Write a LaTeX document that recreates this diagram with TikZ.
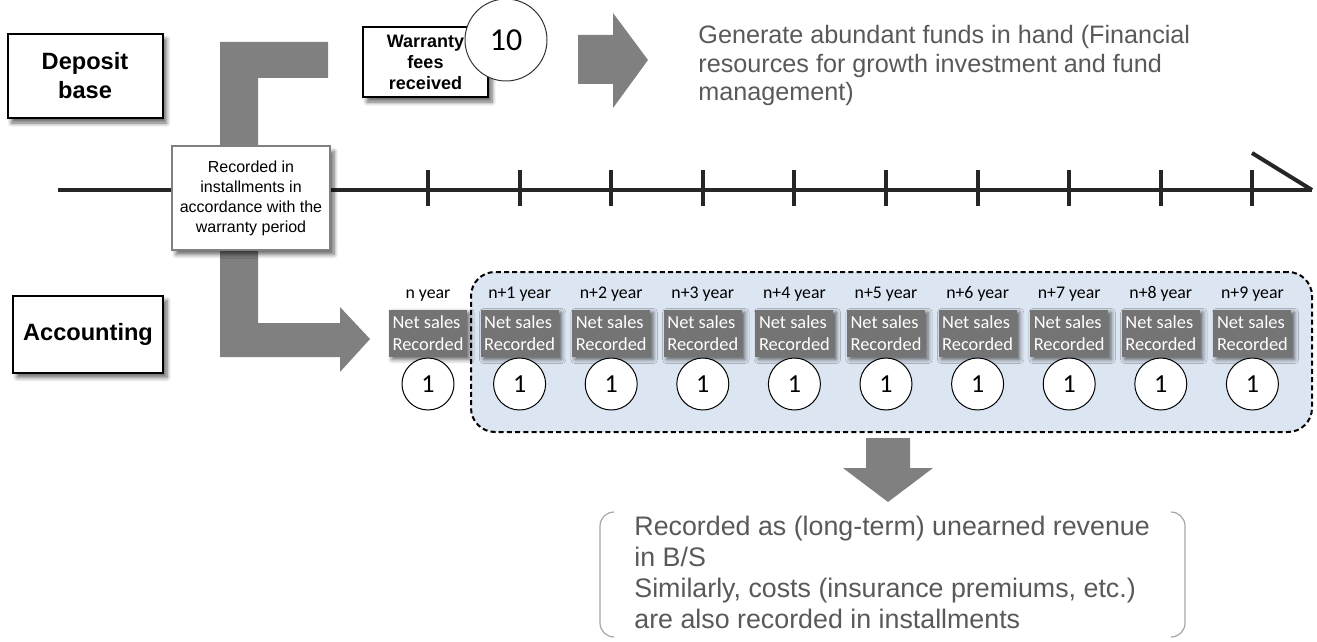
\documentclass[tikz,border=0pt]{standalone}
\usepackage{fontspec}
\setmainfont{Liberation Sans}
\newfontfamily\calfont{Carlito}
\usetikzlibrary{shadows.blur}

\definecolor{arrowgray}{HTML}{808080}
\definecolor{textgray}{HTML}{595959}
\definecolor{boxblue}{HTML}{DCE6F2}
\definecolor{salesgray}{HTML}{747474}
\definecolor{axisgray}{HTML}{262626}
\definecolor{bracketgray}{HTML}{A6A6A6}

\tikzset{
	labelbox/.style={draw=black, line width=1pt, fill=white, align=center, inner sep=2pt,
		font=\bfseries\fontsize{11.8}{14.5}\selectfont,
		blur shadow={shadow xshift=2pt, shadow yshift=-2.5pt, shadow blur steps=6, shadow opacity=60}},
	salesbox/.style={fill=salesgray, text=white, align=left, inner sep=1pt,
		minimum width=39pt, minimum height=23.5pt,
		font=\calfont\fontsize{9.2}{11}\selectfont,
		blur shadow={shadow xshift=1.5pt, shadow yshift=-1.5pt, shadow blur steps=4, shadow opacity=60}},
	onecircle/.style={circle, draw=black, line width=0.5pt, fill=white, minimum size=26pt,
		inner sep=0pt, font=\calfont\fontsize{13}{13}\selectfont},
	yearlabel/.style={anchor=base, inner sep=0pt, font=\calfont\fontsize{8.9}{10}\selectfont},
	grayarrow/.style={fill=arrowgray},
	axis/.style={draw=axisgray, line width=2pt},
}

\begin{document}
\begin{tikzpicture}[x=0.5pt, y=-0.5pt]
	\useasboundingbox (0,0) rectangle (1317,642);

	\node[labelbox, minimum width=77.5pt, minimum height=42pt] (deposit) at (85,76) {Deposit\\base};
	\node[labelbox, minimum width=75pt, minimum height=38.5pt] (accounting) at (88,334) {Accounting};

	\fill[grayarrow] (220,42) -- (328,42) -- (328,78) -- (258,78) -- (258,323) -- (340,323)
		-- (340,307) -- (370,339) -- (340,372) -- (340,357) -- (220,357) -- cycle;

	\coordinate (tstart) at (58,190);
	\coordinate (tend) at (1312,190);
	\coordinate (thead) at (1252,153);
	\draw[axis] (tstart) -- (tend);
	\draw[axis] (thead) -- (tend);
	\foreach \i in {0,...,9}
		\draw[axis, shift={(428+91.6*\i,0)}] (0,170) -- (0,206);

	\node[labelbox, draw=arrowgray, font=\fontsize{8}{10}\selectfont, minimum width=79pt,
		minimum height=51.5pt] (spread) at (251,198) {Recorded in\\installments in\\accordance with the\\warranty period};

	\node[labelbox, font=\bfseries\fontsize{9}{10.5}\selectfont, minimum width=62.5pt,
		minimum height=35pt, inner sep=1pt] (warranty) at (425.5,62) {Warranty\\fees\\received};
	\node[circle, draw=black!80, line width=0.5pt, fill=white, minimum size=41pt, inner sep=0pt,
		font=\calfont\fontsize{16}{16}\selectfont] (ten) at (506,40) {10};

	\fill[grayarrow] (578,35) -- (613,35) -- (613,13) -- (648,60) -- (613,108) -- (613,84)
		-- (578,84) -- cycle;

	\node[anchor=north west, align=left, inner sep=0pt, text=textgray,
		font=\fontsize{12.6}{14.3}\selectfont] (funds) at (698,25)
		{Generate abundant funds in hand (Financial\\resources for growth investment and fund\\management)};

	\node[draw=black, line width=1pt, dash pattern=on 2.5pt off 1.6pt, fill=boxblue,
		rounded corners=12pt, minimum width=420.5pt, minimum height=80pt] (later) at (891.5,352) {};

	\foreach \i/\lab in {0/n year,1/n+1 year,2/n+2 year,3/n+3 year,4/n+4 year,
		5/n+5 year,6/n+6 year,7/n+7 year,8/n+8 year,9/n+9 year}{
		\node[yearlabel] (year\i) at (428+91.6*\i,298) {\lab};
		\node[salesbox] (sales\i) at (428+91.6*\i,333) {Net sales\\Recorded};
		\node[onecircle] (one\i) at (428+91.6*\i,384) {1};
	}

	\fill[grayarrow] (866,438) -- (910,438) -- (910,468) -- (933,468) -- (888,502) -- (843,468)
		-- (866,468) -- cycle;

	\node[anchor=north west, align=left, inner sep=0pt, text=textgray,
		font=\fontsize{13.4}{15.5}\selectfont] (note) at (634,516)
		{Recorded as (long-term) unearned revenue\\in B/S\\Similarly, costs (insurance premiums, etc.)\\are also recorded in installments};
	\draw[bracketgray, line width=0.6pt] (614,512) arc[start angle=270, end angle=180, radius=14]
		-- (600,623) arc[start angle=180, end angle=90, radius=14];
	\draw[bracketgray, line width=0.6pt] (1171,512) arc[start angle=270, end angle=360, radius=14]
		-- (1185,623) arc[start angle=0, end angle=90, radius=14];
\end{tikzpicture}
\end{document}
